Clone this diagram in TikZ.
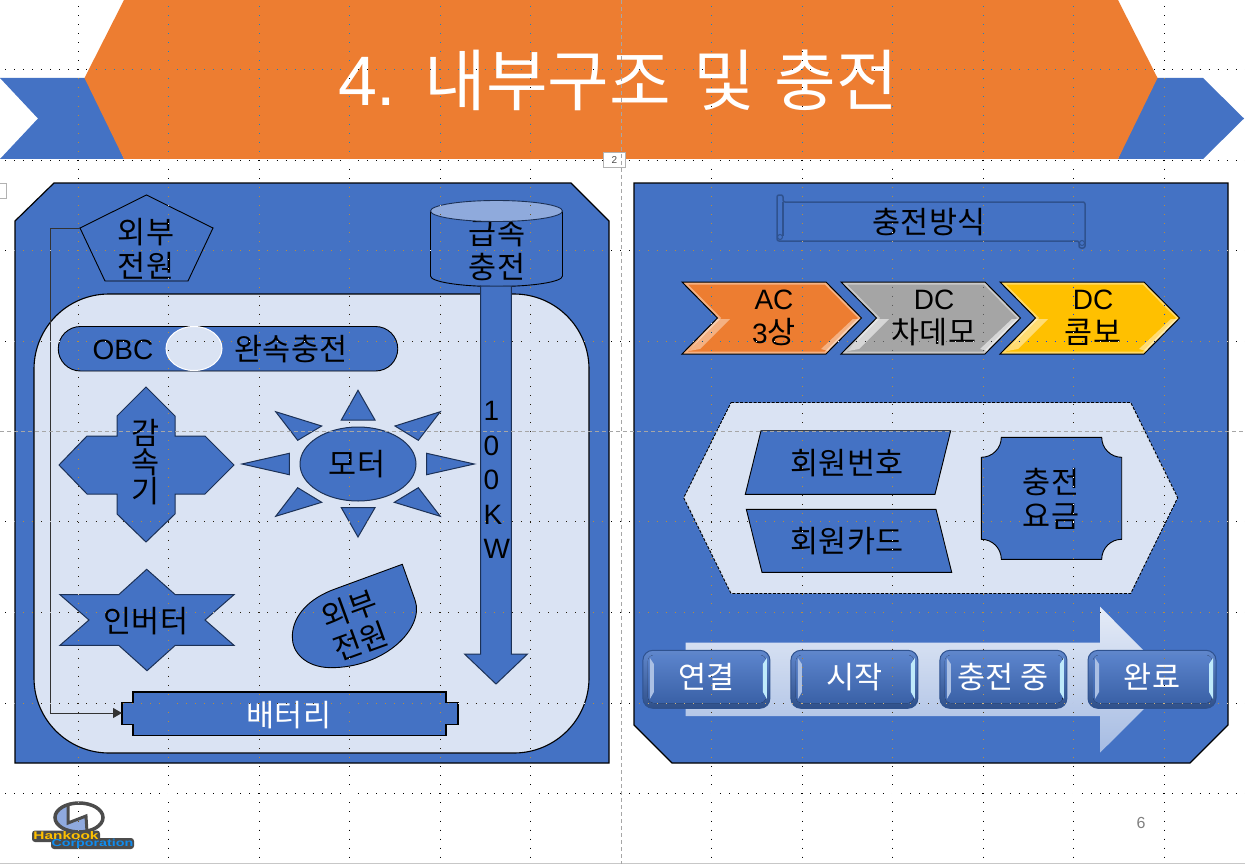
\documentclass[tikz,border=0pt]{standalone}
\usepackage{fontspec}
\setmainfont{Noto Sans CJK KR}
\newfontfamily\lat{Liberation Sans}
\newfontfamily\logofont[FakeStretch=1.4]{Liberation Sans}
\newcommand{\la}[1]{{\lat\fontsize{28}{34}\selectfont #1}}
\usetikzlibrary{arrows.meta,calc,shapes.misc}
\definecolor{pblue}{HTML}{4472C4}
\definecolor{porange}{HTML}{ED7D31}
\definecolor{plight}{HTML}{DAE3F3}
\definecolor{pgray}{HTML}{A5A5A5}
\definecolor{pgold}{HTML}{FFC000}
\definecolor{pdark}{HTML}{2F528F}
\definecolor{logoblue}{HTML}{0F8CF0}
\tikzset{
  shp/.style={draw=black,fill=pblue,line width=0.9pt,line join=miter},
  softshp/.style={draw=pdark!60!black,fill=pblue,line width=1pt,line join=miter},
  panel/.style={draw=black,fill=pblue,line width=1.2pt},
  lab/.style={font=\fontsize{30.5}{34}\selectfont,align=center,inner sep=0pt,text=black},
  wlab/.style={lab,text=white},
  btn/.style={rectangle,rounded corners=10pt,draw=pdark,line width=1pt,minimum height=58pt,top color=#1!85!white,bottom color=#1!70!black,inner sep=0pt},
  guide/.style={draw=white,line width=0.9pt,dash pattern=on 0.9pt off 8.15pt},
  cline/.style={draw=black!35,line width=0.9pt,dash pattern=on 4pt off 3pt}
}
\newcommand{\chevronshape}[3]{%
  \begin{scope}
    \clip (#1,282) -- ({#1+144},282) -- ({#1+179.5},318) -- ({#1+144},354) -- (#1,354) -- ({#1+35.5},318) -- cycle;
    \fill[#2] (#1,282) rectangle ({#1+180},354);
    \draw[white,opacity=.4,line width=5pt] (#1,282) -- ({#1+144},282) -- ({#1+179.5},318) -- ({#1+144},354) -- (#1,354) -- ({#1+35.5},318) -- cycle;
    \fill[white,opacity=#3] ({#1+34},319) -- ({#1+48},319) -- ({#1+18},349) -- ({#1+7},351) -- cycle;
    \fill[white,opacity=#3] ({#1+171},319) -- ({#1+178},319) -- ({#1+146},351) -- ({#1+139},349) -- cycle;
  \end{scope}
  \draw[black,line width=1pt,line join=miter] (#1,282) -- ({#1+144},282) -- ({#1+179.5},318) -- ({#1+144},354) -- (#1,354) -- ({#1+35.5},318) -- cycle;
}
\newcommand{\glossbtn}[4]{%
  \node[btn=pblue,minimum width={2*#2 pt}] (#3) at (#1,679.3) {};
  \fill[rounded corners=6pt,top color=pblue!88!white,bottom color=pblue!85!black] ({#1-#2+5},655) rectangle ({#1+#2-4},703);
  \fill[pblue!45!white] ({#1-#2+7},658) -- ({#1-#2+11},664) -- ({#1-#2+11},692) -- ({#1-#2+7},699) -- cycle;
  \fill[cyan!25!white] ({#1+#2-3},658) -- ({#1+#2-7},664) -- ({#1+#2-7},692) -- ({#1+#2-3},699) -- cycle;
  \node[wlab] (#3t) at (#1,677) {#4};
}
\begin{document}
\begin{tikzpicture}[x=1pt,y=-1pt]
\useasboundingbox (0,0) rectangle (1245,864);
\fill[white] (0,0) rectangle (1245,864);
\draw[black!22,line width=1pt] (0,863.5) -- (1245,863.5);

% ---- title ribbon
\fill[pblue] (0,78) -- (90,78) -- (124,159) -- (0,159) -- (38,118.5) -- cycle;
\fill[pblue] (1150,78) -- (1203,78) -- (1244,118.5) -- (1203,159) -- (1118,159) -- cycle;
\fill[porange] (124,0) -- (1118,0) -- (1157.5,78) -- (1118,159) -- (124,159) -- (84.5,78) -- cycle;
\node[inner sep=0pt,text=white,font=\fontsize{67}{72}\selectfont] (title) at (618,80) {{\lat\fontsize{70}{72}\selectfont 4.} \hspace{8pt}내부구조 \hspace{8pt}및 \hspace{4pt}충전};

% ---- left panel
\draw[panel] (54,183) -- (571,183) -- (609,221) -- (609,763) -- (15,763) -- (15,221) -- cycle;
\draw[draw=black,fill=plight,line width=1.1pt] (34,369) arc[start angle=180,end angle=270,radius=75] -- (514,294) arc[start angle=270,end angle=360,radius=75] -- (589,678) arc[start angle=0,end angle=90,radius=75] -- (109,753) arc[start angle=90,end angle=180,radius=75] -- cycle;

% pentagon
\draw[shp] (146.5,195) -- (213,228) -- (188,281) -- (105,281) -- (80,228) -- cycle;
\coordinate (pentL) at (80,228);
\node[lab] (pentT) at (146,249) {외부\\전원};

% cylinder
\draw[shp] (430.5,211) -- (430.5,276) arc[start angle=180,end angle=0,x radius=66,y radius=10.5] -- (562.5,211) -- cycle;
\node[lab] (cylT) at (497,250) {급속\\충전};
\draw[shp,fill=pblue!60!white,draw=pdark!60!black] (496.5,211) ellipse[x radius=66,y radius=10.5];

% long arrow
\draw[softshp] (480.7,286) -- (511.3,286) -- (511.3,654) -- (527.5,654) -- (496,684) -- (464.5,654) -- (480.7,654) -- cycle;
\node[lab,align=left,font=\lat\fontsize{28}{34.6}\selectfont,anchor=north west] (kwT) at (483.5,401) {1\\0\\0\\K\\W};

% OBC pill
\draw[shp] (80.5,326.5) -- (375.5,326.5) arc[start angle=-90,end angle=90,radius=22.25] -- (80.5,371) arc[start angle=90,end angle=270,radius=22.25] -- cycle;
\draw[draw=white,fill=plight,line width=1pt] (194,348.5) ellipse[x radius=28,y radius=22];
\node[lab,font=\lat\fontsize{28}{34}\selectfont] (obcT) at (123,350) {OBC};
\node[lab] (slowT) at (291,349) {완속충전};

% reducer
\draw[softshp] (146,387) -- (175,416) -- (175,436) -- (205,436) -- (234,465) -- (205,494) -- (175,494) -- (175,514) -- (146,542) -- (117,514) -- (117,494) -- (87,494) -- (59,465) -- (87,436) -- (117,436) -- (117,416) -- cycle;
\node[lab,font=\fontsize{30.5}{29}\selectfont] (redT) at (146,462) {감\\속\\기};

% sun
\draw[softshp] (358,464) ellipse[x radius=58,y radius=37];
\node[lab] (motorT) at (357,464) {모터};
\foreach \tri in {
  {(358,390.3) -- (375,420) -- (341.3,420)},
  {(358,537) -- (375,507.7) -- (341.3,507.7)},
  {(242,464) -- (289.3,453.3) -- (289.3,474.7)},
  {(474.3,464) -- (426.7,453.3) -- (426.7,474.7)},
  {(275.7,411.7) -- (321.7,426) -- (297.7,440.3)},
  {(440.3,411.7) -- (395,426) -- (418.3,440.3)},
  {(275.7,516.3) -- (321.7,502.3) -- (297.7,487.7)},
  {(440.3,516.3) -- (394.3,502.3) -- (418.3,487.7)}}
  {\draw[softshp] \tri -- cycle;}

% inverter
\draw[softshp] (146.7,569.3) -- (175.3,594.7) -- (234,594.7) -- (205,620) -- (234,645.3) -- (175.3,645.3) -- (147,670.7) -- (118.7,645.3) -- (60,645.3) -- (89,620) -- (60,594.7) -- (118.7,594.7) -- cycle;
\node[lab] (invT) at (146,621) {인버터};

% teardrop
\draw[shp] (402.3,564.3) -- (415,600) .. controls (425,628) and (385,668) .. (330,667.7) .. controls (305,667) and (292,652) .. (292.3,636.7) .. controls (292.5,615) and (310,598) .. (335,589) -- cycle;
\node[lab,rotate=20] (dropT) at (355,625) {외부\\전원};

% battery
\draw[shp,line width=1.1pt] (133,692) -- (446,692) -- (446,702.5) -- (458,702.5) -- (458,724.5) -- (446,724.5) -- (446,735.5) -- (133,735.5) -- (133,724.5) -- (122,724.5) -- (122,702.5) -- (133,702.5) -- cycle;
\coordinate (batL) at (122,713);
\node[wlab] (batT) at (289,715) {배터리};
\draw[draw=black!80,line width=1pt,-{Triangle[length=9pt,width=10pt]}] (pentL) -- (50,228) -- (50,713) -- (batL);

% ---- right panel
\draw[panel] (634,183) -- (1228,183) -- (1228,725) -- (1190,763) -- (672,763) -- (634,725) -- cycle;

% scroll
\draw[draw=pdark,fill=pblue,line width=1.5pt,rounded corners=2pt] (777,241) -- (777,195) -- (783,195) -- (783,202) -- (1085,202) -- (1085,248) -- (1079,248) -- (1079,241) -- cycle;
\draw[draw=pdark,line width=1.3pt] (783,202) -- (783,236);
\draw[draw=pdark,line width=1pt] (780,237) circle[radius=2.5];
\draw[draw=pdark,line width=1pt] (1082,243) circle[radius=2.5];
\node[lab] (scrollT) at (929,222) {충전방식};

% chevrons
\chevronshape{682}{porange}{.4}
\chevronshape{841}{pgray}{.55}
\chevronshape{1000}{pgold}{.45}
\node[lab] (acT) at (774,318) {\la{AC}\\\la{3}상};
\node[lab] (chT) at (934,318) {\la{DC}\\차데모};
\node[lab] (cbT) at (1093,318) {\la{DC}\\콤보};

% hexagon
\draw[draw=black,fill=plight,line width=0.9pt,dash pattern=on 3pt off 1.5pt] (731,402.5) -- (1130.7,402.5) -- (1177.7,497.7) -- (1130.7,593.5) -- (731,593.5) -- (683.7,497.7) -- cycle;
\draw[shp] (761,430.7) -- (950.7,430.7) -- (935,494.3) -- (745.3,494.3) -- cycle;
\node[lab] (memNoT) at (847,463) {회원번호};
\draw[shp] (746.3,509.3) -- (936,509.3) -- (951.7,572.3) -- (762,572.3) -- cycle;
\node[lab] (memCdT) at (847,541) {회원카드};
\draw[shp] (1001.3,437.3) -- (1101.7,437.3) arc[start angle=180,end angle=90,radius=20] -- (1121.7,539.3) arc[start angle=-90,end angle=-180,radius=20] -- (1001.3,559.3) arc[start angle=0,end angle=-90,radius=20] -- (981.3,457.3) arc[start angle=90,end angle=0,radius=20] -- cycle;
\node[lab] (feeT) at (1051,499) {충전\\요금};

% big arrow and buttons
\shade[top color=plight!70!white,bottom color=pblue!35!plight] (685.6,642.7) -- (1100,642.7) -- (1100,606.7) -- (1173,680) -- (1100,752.7) -- (1100,716) -- (685.6,716) -- cycle;
\glossbtn{706.4}{63.5}{bA}{연결}
\glossbtn{854.4}{63.5}{bB}{시작}
\glossbtn{1003.4}{63.5}{bC}{충전 중}
\glossbtn{1152}{64}{bD}{완료}

% ---- logo
\fill[cyan!45!blue!45!white] (68,806) -- (68,823) -- (86,816) -- (87,832) -- (72,832) .. controls (60,830) and (55,822) .. (57,815) .. controls (58,810) and (62,807) .. (68,806) -- cycle;
\draw[draw=black!70,line width=3.5pt] (79,817.5) ellipse[x radius=24,y radius=14.5];
\draw[draw=black!70,line width=3pt,line join=miter] (68,804) -- (68,823) -- (86,816) -- (87,832);
\fill[black!70,rounded corners=3pt] (32,830.5) rectangle (100,842);
\fill[black!70,rounded corners=3pt] (51,838) rectangle (134,849);
\node[inner sep=0pt,text=pgold,font=\logofont\bfseries\fontsize{11}{11}\selectfont] (logoA) at (66,835.5) {Hankook};
\node[inner sep=0pt,text=logoblue,font=\logofont\bfseries\fontsize{10.2}{11}\selectfont] (logoB) at (92.5,844) {Corporation};

% page number
\node[inner sep=0pt,text=black!50,font=\lat\fontsize{16}{18}\selectfont] (pageNum) at (1141,823) {6};

% ---- guides
\begin{scope}[blend mode=difference]
\foreach \yy in {69,160,250,341,521,612,703,793}
  {\draw[guide] (5,\yy) -- (1245,\yy);}
\foreach \xx in {78,168,259,349,440,530,711,802,892,983,1073,1164}
  {\draw[guide] (\xx,6) -- (\xx,860);}
\end{scope}

% ---- small markers and centre lines
\node[draw=black!30,fill=white,line width=1pt,minimum width=22pt,minimum height=15pt,inner sep=0pt,text=black!70,font=\lat\fontsize{10}{12}\selectfont] (pageMark) at (614.3,160.5) {2};
\draw[draw=black!30,fill=white,line width=1pt] (-1,183.5) rectangle (6.5,198);
\draw[cline] (621.5,0) -- (621.5,864);
\draw[cline] (0,431) -- (1245,431);
\end{tikzpicture}
\end{document}
